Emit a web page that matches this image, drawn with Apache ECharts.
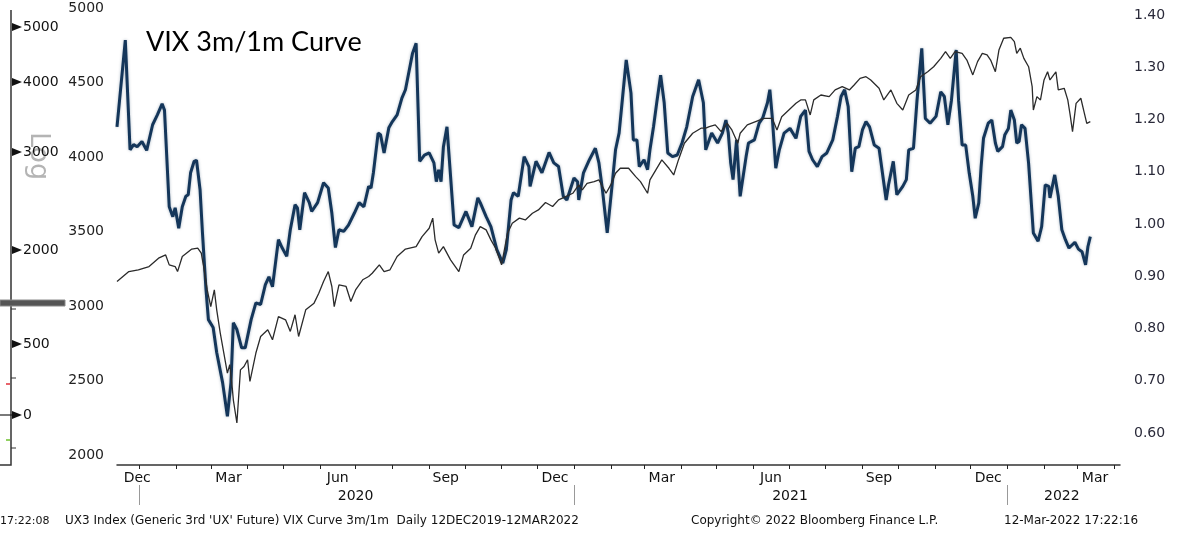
<!DOCTYPE html>
<html>
<head>
<meta charset="utf-8">
<title>VIX 3m/1m Curve</title>
<script src="https://cdn.jsdelivr.net/npm/echarts@6/dist/echarts.min.js"></script>
<style>
  html, body { margin: 0; padding: 0; background: #fff; }
  #main { width: 1179px; height: 535px; }
</style>
</head>
<body>
<div id="main"></div>
<script>
// day offsets are days since 1 Jan 2020
var DAY = 86400000;
var BASE = Date.UTC(2020, 0, 1);

// VIX 3m/1m ratio (right axis)
var ratioDays = [-19, -12, -8, -5, -2, 2, 6, 11, 15, 19, 21, 25, 28, 30, 33, 36, 39, 41, 43, 46, 48, 51, 53, 56, 58, 62, 65, 70, 74, 77, 79, 82, 86, 89, 94, 98, 102, 106, 109, 112, 117, 120, 124, 127, 131, 133, 135, 139, 143, 145, 150, 155, 159, 162, 165, 168, 172, 176, 181, 185, 189, 193, 195, 197, 201, 203, 206, 210, 213, 217, 221, 224, 227, 230, 233, 236, 240, 244, 248, 250, 252, 254, 256, 259, 265, 269, 275, 280, 285, 287, 292, 296, 301, 306, 309, 313, 315, 319, 324, 328, 329, 334, 339, 345, 349, 353, 357, 360, 366, 369, 370, 374, 379, 384, 387, 390, 394, 398, 401, 404, 407, 410, 414, 416, 419, 421, 425, 428, 430, 433, 436, 439, 442, 445, 449, 453, 457, 461, 466, 471, 475, 477, 482, 487, 491, 494, 496, 498, 500, 503, 506, 511, 513, 518, 522, 525, 529, 531, 533, 536, 539, 543, 548, 553, 557, 561, 564, 567, 571, 575, 579, 584, 588, 591, 594, 597, 600, 603, 606, 609, 612, 615, 619, 623, 629, 631, 635, 638, 643, 646, 648, 652, 655, 659, 662, 666, 671, 675, 678, 681, 684, 688, 690, 693, 696, 699, 702, 704, 707, 709, 711, 715, 718, 721, 723, 727, 729, 732, 734, 737, 739, 741, 743, 746, 749, 753, 757, 760, 763, 766, 767, 771, 774, 777, 780, 783, 788, 791, 794, 797, 799, 801];
var ratioValues = [1.186, 1.352, 1.142, 1.152, 1.148, 1.158, 1.141, 1.190, 1.209, 1.230, 1.218, 1.033, 1.014, 1.031, 0.992, 1.033, 1.053, 1.056, 1.098, 1.120, 1.122, 1.065, 0.983, 0.874, 0.817, 0.802, 0.754, 0.696, 0.632, 0.696, 0.811, 0.798, 0.763, 0.763, 0.817, 0.849, 0.846, 0.884, 0.899, 0.880, 0.970, 0.955, 0.938, 0.989, 1.037, 1.031, 0.989, 1.060, 1.041, 1.024, 1.041, 1.079, 1.069, 1.021, 0.955, 0.989, 0.986, 0.998, 1.021, 1.041, 1.033, 1.072, 1.069, 1.098, 1.174, 1.171, 1.136, 1.184, 1.196, 1.209, 1.241, 1.257, 1.292, 1.327, 1.346, 1.120, 1.132, 1.136, 1.117, 1.081, 1.104, 1.081, 1.148, 1.186, 0.998, 0.993, 1.024, 0.995, 1.050, 1.041, 1.014, 0.995, 0.951, 0.925, 0.951, 1.046, 1.060, 1.053, 1.129, 1.110, 1.072, 1.120, 1.098, 1.137, 1.117, 1.110, 1.053, 1.046, 1.088, 1.081, 1.046, 1.098, 1.123, 1.145, 1.117, 1.065, 0.983, 1.072, 1.142, 1.174, 1.244, 1.314, 1.251, 1.161, 1.161, 1.110, 1.123, 1.104, 1.142, 1.186, 1.237, 1.285, 1.232, 1.136, 1.129, 1.132, 1.155, 1.186, 1.244, 1.276, 1.232, 1.142, 1.174, 1.155, 1.174, 1.199, 1.174, 1.117, 1.085, 1.161, 1.053, 1.129, 1.155, 1.161, 1.193, 1.203, 1.232, 1.257, 1.206, 1.107, 1.142, 1.174, 1.183, 1.164, 1.206, 1.218, 1.139, 1.123, 1.110, 1.129, 1.136, 1.161, 1.206, 1.244, 1.257, 1.225, 1.100, 1.145, 1.148, 1.180, 1.196, 1.186, 1.151, 1.145, 1.046, 1.075, 1.120, 1.056, 1.072, 1.085, 1.142, 1.145, 1.237, 1.336, 1.202, 1.193, 1.206, 1.253, 1.244, 1.190, 1.237, 1.333, 1.237, 1.151, 1.151, 1.097, 1.053, 1.011, 1.040, 1.110, 1.164, 1.193, 1.199, 1.155, 1.139, 1.148, 1.171, 1.183, 1.218, 1.199, 1.155, 1.158, 1.190, 1.183, 1.116, 0.983, 0.967, 0.995, 1.075, 1.072, 1.050, 1.094, 1.053, 0.989, 0.970, 0.954, 0.965, 0.952, 0.947, 0.922, 0.957, 0.976];

// S&P 500 (left axis)
var spxDays = [-19, -9, -1, 8, 16, 22, 25, 30, 32, 36, 44, 49, 52, 54, 57, 60, 63, 65, 68, 71, 74, 76, 78, 79, 82, 85, 88, 91, 93, 98, 102, 108, 112, 117, 123, 127, 131, 134, 140, 147, 151, 155, 159, 162, 164, 168, 174, 178, 182, 188, 193, 196, 202, 206, 211, 217, 224, 233, 238, 244, 247, 249, 252, 256, 262, 266, 269, 273, 279, 283, 287, 292, 296, 300, 305, 310, 314, 320, 325, 331, 336, 342, 348, 353, 359, 365, 370, 373, 377, 383, 387, 393, 397, 401, 405, 412, 418, 422, 428, 430, 435, 440, 446, 450, 454, 459, 466, 473, 477, 480, 485, 490, 495, 499, 504, 506, 512, 519, 526, 533, 537, 541, 547, 553, 557, 561, 565, 568, 574, 581, 586, 592, 598, 602, 607, 612, 616, 623, 627, 633, 638, 643, 648, 654, 658, 664, 669, 675, 679, 683, 687, 693, 697, 702, 706, 710, 714, 717, 721, 724, 728, 734, 737, 739, 742, 745, 749, 752, 753, 756, 759, 762, 765, 767, 772, 774, 779, 782, 784, 786, 789, 793, 796, 798, 801];
var spxValues = [3165, 3232, 3244, 3266, 3322, 3344, 3277, 3266, 3232, 3333, 3383, 3389, 3356, 3266, 3109, 2997, 3109, 2975, 2819, 2685, 2550, 2607, 2460, 2371, 2215, 2572, 2595, 2640, 2494, 2685, 2796, 2841, 2774, 2930, 2908, 2830, 2942, 2796, 2975, 3020, 3087, 3165, 3232, 3132, 2997, 3143, 3132, 3031, 3109, 3177, 3199, 3221, 3277, 3232, 3244, 3333, 3383, 3400, 3467, 3523, 3591, 3445, 3356, 3400, 3311, 3266, 3232, 3344, 3389, 3479, 3534, 3512, 3445, 3389, 3277, 3490, 3557, 3591, 3579, 3624, 3646, 3696, 3669, 3714, 3736, 3758, 3814, 3781, 3825, 3836, 3848, 3758, 3814, 3892, 3926, 3926, 3870, 3836, 3758, 3848, 3915, 3982, 3926, 3881, 3982, 4094, 4161, 4195, 4195, 4205, 4217, 4172, 4228, 4183, 4094, 4161, 4217, 4239, 4261, 4261, 4183, 4272, 4317, 4362, 4385, 4385, 4284, 4385, 4418, 4407, 4452, 4474, 4452, 4485, 4530, 4541, 4519, 4463, 4385, 4452, 4362, 4317, 4418, 4452, 4541, 4574, 4608, 4664, 4709, 4664, 4709, 4698, 4653, 4553, 4642, 4698, 4687, 4653, 4574, 4720, 4799, 4805, 4776, 4698, 4732, 4664, 4608, 4474, 4317, 4407, 4385, 4519, 4574, 4519, 4574, 4452, 4463, 4385, 4284, 4172, 4362, 4396, 4295, 4228, 4239];

// axis labels
var monthLabelDates = ['2019-12-30', '2020-03-16', '2020-06-16', '2020-09-15', '2020-12-16', '2021-03-16', '2021-06-16', '2021-09-15', '2021-12-16', '2022-03-16'];
var monthLabelNames = ['Dec', 'Mar', 'Jun', 'Sep', 'Dec', 'Mar', 'Jun', 'Sep', 'Dec', 'Mar'];
var yearLabelDates = ['2020-07-01', '2021-07-02', '2022-02-16'];
var yearLabelNames = ['2020', '2021', '2022'];
var yearTickDates = ['2020-01-01', '2021-01-01', '2022-01-01'];
var spxTicks = [2000, 2500, 3000, 3500, 4000, 4500, 5000];
var ratioTicks = [0.6, 0.7, 0.8, 0.9, 1.0, 1.1, 1.2, 1.3, 1.4];

var xMin = BASE - 19 * DAY;
var xMax = BASE + 826 * DAY;

function toTime(d) { return BASE + d * DAY; }
function parseDate(s) { return new Date(s + 'T00:00:00Z').getTime(); }

var monthTicks = [];
for (var y = 2020; y <= 2022; y++) {
  for (var m = 0; m < 12; m++) {
    var t = Date.UTC(y, m, 1);
    if (t > xMin && t < xMax) monthTicks.push(t);
  }
}

var monthLabelMap = {};
monthLabelDates.forEach(function (s, i) { monthLabelMap[parseDate(s)] = monthLabelNames[i]; });
var yearLabelMap = {};
yearLabelDates.forEach(function (s, i) { yearLabelMap[parseDate(s)] = yearLabelNames[i]; });

var ratioData = ratioDays.map(function (d, i) { return [toTime(d), ratioValues[i]]; });
var spxData = spxDays.map(function (d, i) { return [toTime(d), spxValues[i]]; });

var labelFont = 'DejaVu Sans';
var myChart = echarts.init(document.getElementById('main'));
var option;

// leftover axis panel on the far left
var sideLabels = [['5000', 27], ['4000', 82], ['3000', 152], ['2000', 250], ['500', 344], ['0', 415]];
var sideGraphics = [
  { type: 'polyline', shape: { points: [[11, 10], [11, 465], [0, 465]] }, style: { stroke: '#333', lineWidth: 1.5, fill: null } },
  { type: 'line', shape: { x1: 0, y1: 415, x2: 12, y2: 415 }, style: { stroke: '#222', lineWidth: 1.2 } },
  { type: 'line', shape: { x1: 11, y1: 309, x2: 16, y2: 309 }, style: { stroke: '#333', lineWidth: 1 } },
  { type: 'line', shape: { x1: 11, y1: 378, x2: 16, y2: 378 }, style: { stroke: '#333', lineWidth: 1 } },
  { type: 'line', shape: { x1: 11, y1: 448, x2: 16, y2: 448 }, style: { stroke: '#333', lineWidth: 1 } },
  { type: 'line', shape: { x1: 6, y1: 384, x2: 10, y2: 384 }, style: { stroke: '#e0303a', lineWidth: 1.5 } },
  { type: 'line', shape: { x1: 6, y1: 440, x2: 10, y2: 440 }, style: { stroke: '#6cc02c', lineWidth: 1.5 } },
  { type: 'rect', shape: { x: 0, y: 300, width: 65, height: 6 }, style: { fill: '#555', stroke: '#8a8a8a', lineWidth: 1 } },
  { type: 'text', x: 38, y: 132, rotation: -Math.PI / 2, style: { text: 'Log', fill: '#b4b4b4', font: '27px "DejaVu Sans"', textAlign: 'left', textVerticalAlign: 'middle' } }
];
sideLabels.forEach(function (l) {
  sideGraphics.push({ type: 'polygon', shape: { points: [[12, l[1] - 4], [22, l[1]], [12, l[1] + 4]] }, style: { fill: '#111' } });
  sideGraphics.push({ type: 'text', x: 23, y: l[1], style: { text: l[0], fill: '#111', font: '14px "DejaVu Sans"', textVerticalAlign: 'middle' } });
});

var footer = [
  { type: 'text', x: 0, y: 521, style: { text: '17:22:08', fill: '#111', font: '11px "DejaVu Sans"', textVerticalAlign: 'middle' } },
  { type: 'text', x: 65, y: 521, style: { text: "UX3 Index (Generic 3rd 'UX' Future) VIX Curve 3m/1m  Daily 12DEC2019-12MAR2022", fill: '#111', font: '12px "DejaVu Sans"', textVerticalAlign: 'middle' } },
  { type: 'text', x: 691, y: 521, style: { text: 'Copyright\u00a9 2022 Bloomberg Finance L.P.', fill: '#111', font: '12px "DejaVu Sans"', textVerticalAlign: 'middle' } },
  { type: 'text', x: 1004, y: 521, style: { text: '12-Mar-2022 17:22:16', fill: '#111', font: '12px "DejaVu Sans"', textVerticalAlign: 'middle' } }
];

option = {
  animation: false,
  backgroundColor: '#fff',
  title: {
    text: 'VIX 3m/1m Curve',
    left: 141,
    top: 24,
    textStyle: { fontFamily: 'Lato', fontSize: 27, fontWeight: 'normal', color: '#000' }
  },
  grid: { left: 117, right: 59, top: 0, bottom: 70 },
  xAxis: [
    {
      type: 'value',
      min: xMin,
      max: xMax,
      axisLine: { lineStyle: { color: '#333', width: 1.5 } },
      axisTick: { show: true, length: 4, lineStyle: { color: '#222' }, customValues: monthTicks },
      axisLabel: {
        customValues: monthLabelDates.map(parseDate),
        formatter: function (v) { return monthLabelMap[v] || ''; },
        margin: 6,
        fontFamily: labelFont,
        fontSize: 14,
        color: '#111'
      },
      splitLine: { show: false }
    },
    {
      type: 'value',
      min: xMin,
      max: xMax,
      position: 'bottom',
      offset: 20,
      axisLine: { show: false },
      axisTick: { show: true, length: 20, lineStyle: { color: '#999' }, customValues: yearTickDates.map(parseDate) },
      axisLabel: {
        customValues: yearLabelDates.map(parseDate),
        formatter: function (v) { return yearLabelMap[v] || ''; },
        margin: 4,
        fontFamily: labelFont,
        fontSize: 14,
        color: '#111'
      },
      splitLine: { show: false }
    }
  ],
  yAxis: [
    {
      type: 'value',
      position: 'left',
      min: 1933,
      max: 5056,
      axisLine: { show: false },
      axisTick: { show: false },
      splitLine: { show: false },
      axisLabel: {
        customValues: spxTicks,
        margin: 13,
        fontFamily: labelFont,
        fontSize: 14,
        color: '#222',
        formatter: function (v) { return String(v); }
      }
    },
    {
      type: 'value',
      position: 'right',
      min: 0.5388,
      max: 1.4287,
      axisLine: { show: false },
      axisTick: { show: false },
      splitLine: { show: false },
      axisLabel: {
        customValues: ratioTicks,
        margin: 14,
        fontFamily: labelFont,
        fontSize: 14,
        color: '#2a2a3a',
        formatter: function (v) { return v.toFixed(2); }
      }
    }
  ],
  graphic: sideGraphics.concat(footer),
  series: [
    {
      name: 'VIX 3m/1m',
      type: 'line',
      xAxisIndex: 0,
      yAxisIndex: 1,
      data: ratioData,
      symbol: 'none',
      lineStyle: { color: '#14365a', width: 3, shadowColor: 'rgba(20,54,90,0.35)', shadowBlur: 3 },
      z: 2
    },
    {
      name: 'SPX',
      type: 'line',
      xAxisIndex: 0,
      yAxisIndex: 0,
      data: spxData,
      symbol: 'none',
      lineStyle: { color: '#2b2b2b', width: 1.3 },
      z: 3
    }
  ]
};

option && myChart.setOption(option);
</script>
</body>
</html>
